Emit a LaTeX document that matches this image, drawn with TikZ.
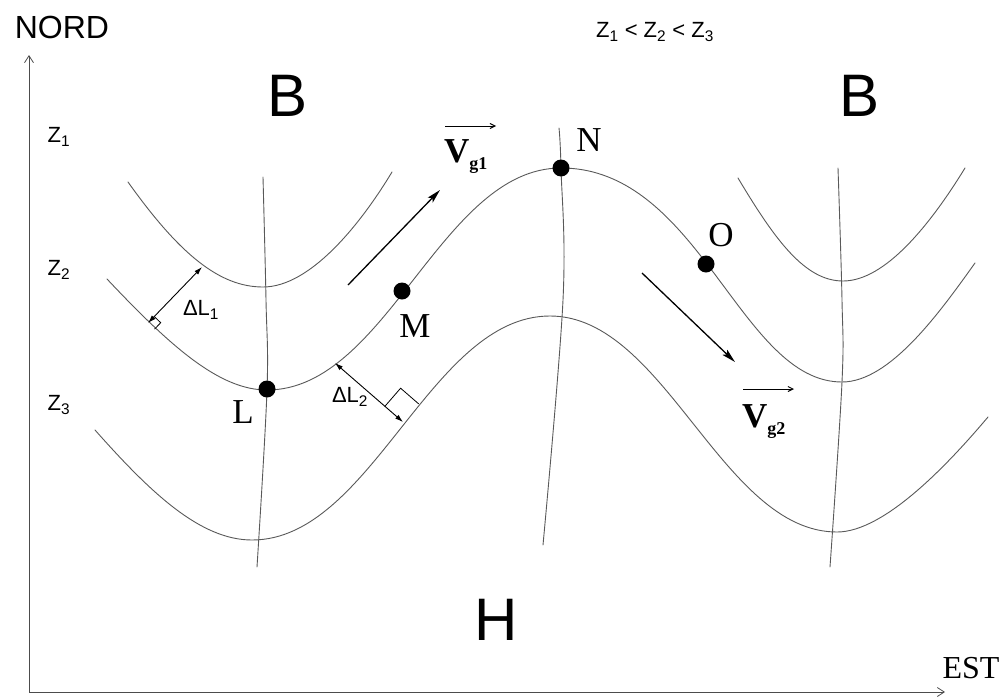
\documentclass[tikz,border=0pt]{standalone}
\usepackage{fontspec}
\setmainfont{Liberation Serif}
\setsansfont{Liberation Sans}
\usetikzlibrary{arrows.meta}
\begin{document}
\begin{tikzpicture}[x=1pt,y=-1pt,
  contour/.style={line width=0.9pt, black!65, line cap=round},
  axisline/.style={line width=0.8pt, black!70, -{Straight Barb[length=7pt,width=9pt]}},
  vecarrow/.style={line width=1.3pt, black, -{Stealth[length=14pt,width=7pt,inset=3pt]}},
  dlarrow/.style={line width=0.9pt, black, {Latex[length=8pt,width=5pt]}-{Latex[length=8pt,width=5pt]}},
  dot/.style={circle, fill=black, inner sep=0pt, minimum size=17pt},
  ptlabel/.style={font=\fontsize{35}{35}\selectfont, inner sep=0pt},
  bigsans/.style={font=\sffamily\fontsize{60}{60}\selectfont, inner sep=0pt},
  zlabel/.style={font=\sffamily\fontsize{22}{22}\selectfont, inner sep=0pt},
  dllabel/.style={font=\sffamily\fontsize{22}{22}\selectfont, inner sep=0pt},
  veclabel/.style={font=\bfseries\fontsize{35}{35}\selectfont, inner sep=0pt}
]
\useasboundingbox (0,0) rectangle (1007,699);

% axes
\coordinate (orig) at (29,692);
\coordinate (ytip) at (29,55);
\coordinate (xtip) at (945,692);
\draw[axisline] (orig) -- (ytip);
\draw[axisline] (orig) -- (xtip);
\node[font=\sffamily\fontsize{32}{32}\selectfont, inner sep=0pt] (nord) at (62,27) {NORD};
\node[font=\fontsize{32}{32}\selectfont, inner sep=0pt] (est) at (971,668) {EST};

% labels
\node[zlabel] (z1) at (59,137) {Z\textsubscript{1}};
\node[zlabel] (z2) at (59,270) {Z\textsubscript{2}};
\node[zlabel] (z3) at (59,405) {Z\textsubscript{3}};
\node[zlabel] (zord) at (655,32) {Z\textsubscript{1} {<} Z\textsubscript{2} {<} Z\textsubscript{3}};
\node[bigsans] (b1) at (288,96) {B};
\node[bigsans] (b2) at (860,96) {B};
\node[bigsans] (h) at (496,620) {H};

% contour Z1
\draw[contour] (128,182) .. controls (180,255) and (220,287) .. (263,287)
                         .. controls (310,287) and (360,225) .. (392,172);
\draw[contour] (738,178) .. controls (775,240) and (805,281) .. (843,281)
                         .. controls (885,281) and (930,225) .. (965,168);
% contour Z2
\draw[contour] (107,279) .. controls (172,348) and (220,390) .. (267,390)
                         .. controls (387,390) and (441,168) .. (561,168)
                         .. controls (700,168) and (740,382) .. (842,382)
                         .. controls (890,382) and (940,312) .. (975,263);
% contour Z3
\draw[contour] (95,430) .. controls (150,492) and (200,540) .. (252,540)
                        .. controls (372,540) and (430,316) .. (550,316)
                        .. controls (665,316) and (722,532) .. (837,532)
                        .. controls (885,532) and (950,462) .. (988,417);

% trough / ridge axes
\draw[contour] plot[smooth, tension=0.6] coordinates {(263,177) (266,300) (267,390) (257,567)};
\draw[contour] plot[smooth, tension=0.6] coordinates {(559,128) (561,168) (563,300) (543,545)};
\draw[contour] plot[smooth, tension=0.6] coordinates {(838,168) (842,300) (842,382) (830,567)};

% points
\node[dot] (L) at (267,389) {};
\node[dot] (M) at (402,291) {};
\node[dot] (N) at (561,168) {};
\node[dot] (O) at (706,264) {};
\node[ptlabel] (Llab) at (243,412) {L};
\node[ptlabel] (Mlab) at (415,326) {M};
\node[ptlabel] (Nlab) at (589,140) {N};
\node[ptlabel] (Olab) at (721,235) {O};

% geostrophic wind vectors
\coordinate (v1a) at (348,285);
\coordinate (v1b) at (440,190);
\draw[vecarrow] (v1a) -- (v1b);
\coordinate (v2a) at (642,273);
\coordinate (v2b) at (735,362);
\draw[vecarrow] (v2a) -- (v2b);

\node[veclabel, anchor=base west] (vg1) at (444,162) {V\raisebox{-7pt}{\fontsize{18}{18}\selectfont g1}};
\coordinate (vg1s) at (445,126);
\coordinate (vg1e) at (496,126);
\draw[line width=1pt, -{Straight Barb[length=5pt,width=5pt]}] (vg1s) -- (vg1e);

\node[veclabel, anchor=base west] (vg2) at (742,427) {V\raisebox{-7pt}{\fontsize{18}{18}\selectfont g2}};
\coordinate (vg2s) at (743,389);
\coordinate (vg2e) at (794,389);
\draw[line width=1pt, -{Straight Barb[length=5pt,width=5pt]}] (vg2s) -- (vg2e);

% Delta L1
\coordinate (dl1a) at (148,323);
\coordinate (dl1b) at (202,267);
\draw[dlarrow] (dl1a) -- (dl1b);
\draw[line width=0.8pt] (154.2,316.5) -- (160.7,322.7) -- (154.5,329.2);
\node[dllabel] (dl1) at (201,310) {ΔL\textsubscript{1}};

% Delta L2
\coordinate (dl2a) at (335,363);
\coordinate (dl2b) at (403,422);
\draw[dlarrow] (dl2a) -- (dl2b);
\draw[line width=0.8pt] (384.9,406.3) -- (400.6,388.2) -- (418.7,403.9);
\node[dllabel] (dl2) at (350,397) {ΔL\textsubscript{2}};
\end{tikzpicture}
\end{document}
